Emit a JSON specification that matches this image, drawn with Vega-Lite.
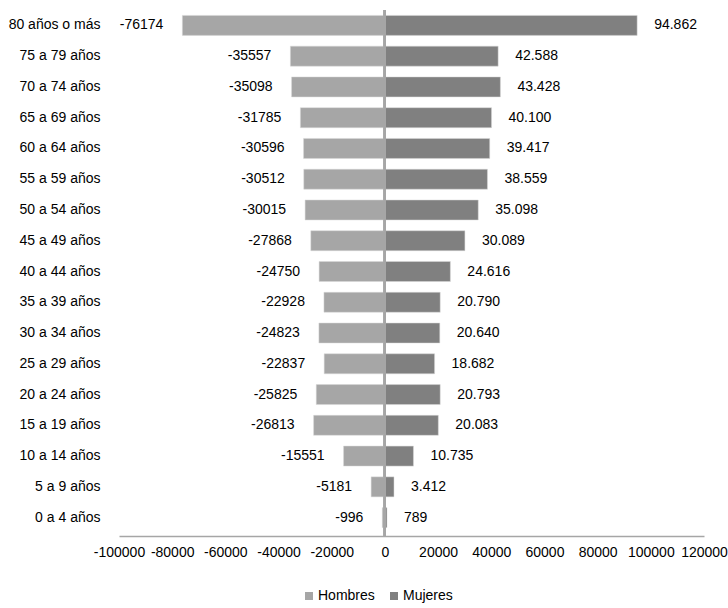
{
  "$schema": "https://vega.github.io/schema/vega-lite/v6.json",
  "autosize": {"type": "none"},
  "width": 585,
  "height": 523,
  "padding": {"left": 119, "top": 10, "right": 24, "bottom": 75},
  "background": "white",
  "config": {
    "view": {"stroke": null},
    "font": "Liberation Sans",
    "locale": {"number": {"decimal": ",", "thousands": ".", "grouping": [3], "currency": ["", ""], "minus": "-"}}
  },
  "data": {"values": [
    {"edad": "80 años o más", "sexo": "Hombres", "valor": -76174},
    {"edad": "80 años o más", "sexo": "Mujeres", "valor": 94862},
    {"edad": "75 a 79 años", "sexo": "Hombres", "valor": -35557},
    {"edad": "75 a 79 años", "sexo": "Mujeres", "valor": 42588},
    {"edad": "70 a 74 años", "sexo": "Hombres", "valor": -35098},
    {"edad": "70 a 74 años", "sexo": "Mujeres", "valor": 43428},
    {"edad": "65 a 69 años", "sexo": "Hombres", "valor": -31785},
    {"edad": "65 a 69 años", "sexo": "Mujeres", "valor": 40100},
    {"edad": "60 a 64 años", "sexo": "Hombres", "valor": -30596},
    {"edad": "60 a 64 años", "sexo": "Mujeres", "valor": 39417},
    {"edad": "55 a 59 años", "sexo": "Hombres", "valor": -30512},
    {"edad": "55 a 59 años", "sexo": "Mujeres", "valor": 38559},
    {"edad": "50 a 54 años", "sexo": "Hombres", "valor": -30015},
    {"edad": "50 a 54 años", "sexo": "Mujeres", "valor": 35098},
    {"edad": "45 a 49 años", "sexo": "Hombres", "valor": -27868},
    {"edad": "45 a 49 años", "sexo": "Mujeres", "valor": 30089},
    {"edad": "40 a 44 años", "sexo": "Hombres", "valor": -24750},
    {"edad": "40 a 44 años", "sexo": "Mujeres", "valor": 24616},
    {"edad": "35 a 39 años", "sexo": "Hombres", "valor": -22928},
    {"edad": "35 a 39 años", "sexo": "Mujeres", "valor": 20790},
    {"edad": "30 a 34 años", "sexo": "Hombres", "valor": -24823},
    {"edad": "30 a 34 años", "sexo": "Mujeres", "valor": 20640},
    {"edad": "25 a 29 años", "sexo": "Hombres", "valor": -22837},
    {"edad": "25 a 29 años", "sexo": "Mujeres", "valor": 18682},
    {"edad": "20 a 24 años", "sexo": "Hombres", "valor": -25825},
    {"edad": "20 a 24 años", "sexo": "Mujeres", "valor": 20793},
    {"edad": "15 a 19 años", "sexo": "Hombres", "valor": -26813},
    {"edad": "15 a 19 años", "sexo": "Mujeres", "valor": 20083},
    {"edad": "10 a 14 años", "sexo": "Hombres", "valor": -15551},
    {"edad": "10 a 14 años", "sexo": "Mujeres", "valor": 10735},
    {"edad": "5 a 9 años", "sexo": "Hombres", "valor": -5181},
    {"edad": "5 a 9 años", "sexo": "Mujeres", "valor": 3412},
    {"edad": "0 a 4 años", "sexo": "Hombres", "valor": -996},
    {"edad": "0 a 4 años", "sexo": "Mujeres", "valor": 789}
  ]},
  "encoding": {
    "y": {
      "field": "edad", "type": "nominal",
      "sort": ["80 años o más", "75 a 79 años", "70 a 74 años", "65 a 69 años", "60 a 64 años", "55 a 59 años", "50 a 54 años", "45 a 49 años", "40 a 44 años", "35 a 39 años", "30 a 34 años", "25 a 29 años", "20 a 24 años", "15 a 19 años", "10 a 14 años", "5 a 9 años", "0 a 4 años"],
      "scale": {"paddingInner": 0.35, "paddingOuter": 0.175},
      "axis": {"title": null, "domain": false, "ticks": false, "labelAlign": "right", "labelPadding": 19, "labelFontSize": 14, "labelColor": "#000000", "labelFont": "Liberation Sans"}
    },
    "x": {
      "field": "valor", "type": "quantitative",
      "scale": {"domain": [-100000, 120000], "nice": false},
      "axis": {"title": null, "grid": false, "ticks": false, "domainColor": "#A6A6A6", "domainWidth": 1.5, "values": [-100000, -80000, -60000, -40000, -20000, 0, 20000, 40000, 60000, 80000, 100000, 120000], "format": "d", "labelFontSize": 14, "labelColor": "#000000", "labelPadding": 9, "offset": 3, "labelFont": "Liberation Sans", "labelOverlap": false, "labelFlush": false}
    }
  },
  "layer": [
    {
      "mark": {"type": "bar", "stroke": "#D9D9D9", "strokeWidth": 0.5},
      "encoding": {
        "color": {
          "field": "sexo", "type": "nominal",
          "scale": {"domain": ["Hombres", "Mujeres"], "range": ["#A6A6A6", "#808080"]},
          "legend": {"title": null, "orient": "none", "legendX": 183, "legendY": 579, "direction": "horizontal", "symbolType": "square", "symbolSize": 64, "symbolStrokeWidth": 0, "labelFontSize": 14, "labelColor": "#000000", "labelFont": "Liberation Sans", "columnPadding": 12, "labelOffset": 2}
        }
      }
    },
    {
      "transform": [{"filter": "datum.sexo == 'Hombres'"}],
      "mark": {"type": "text", "align": "right", "dx": -19, "fontSize": 14, "color": "#000000", "font": "Liberation Sans"},
      "encoding": {"text": {"field": "valor", "type": "quantitative", "format": "d"}}
    },
    {
      "transform": [{"filter": "datum.sexo == 'Mujeres'"}],
      "mark": {"type": "text", "align": "left", "dx": 17, "fontSize": 14, "color": "#000000", "font": "Liberation Sans"},
      "encoding": {"text": {"field": "valor", "type": "quantitative", "format": ",d"}}
    },
    {
      "mark": {"type": "rule", "color": "#A6A6A6", "strokeWidth": 2},
      "encoding": {"x": {"datum": 0}, "y": {"value": 0}, "y2": {"value": 526}}
    }
  ]
}
